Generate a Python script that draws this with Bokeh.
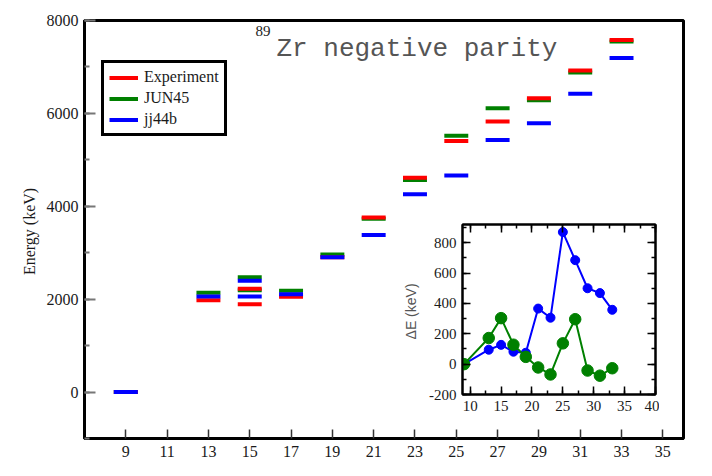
import numpy as np
from bokeh.plotting import figure
from bokeh.models import (Range1d, FixedTicker, SingleIntervalTicker, Label, Legend,
                          LegendItem, LinearAxis, GridBox, ColumnDataSource,
                          CustomLabelingPolicy)
from bokeh.embed import file_html
from bokeh.resources import INLINE

# ---------------- data ----------------
two_j = [9, 13, 15, 15, 17, 19, 21, 23, 25, 27, 29, 31, 33]
e_exp = [0, 1975, 1890, 2225, 2050, 2905, 3760, 4615, 5405, 5825, 6325, 6925, 7580]
e_jun45 = [0, 2140, 2190, 2470, 2180, 2960, 3730, 4565, 5520, 6110, 6285, 6880, 7550]
e_jj44b = [0, 2060, 2060, 2395, 2105, 2900, 3380, 4260, 4665, 5425, 5785, 6425, 7195]
x_tick_values = [9, 11, 13, 15, 17, 19, 21, 23, 25, 27, 29, 31, 33, 35]

inset_2j = [9, 13, 15, 17, 19, 21, 23, 25, 27, 29, 31, 33]
de_jj44b = [0, 95, 127, 82, 75, 366, 306, 870, 685, 500, 468, 358]
de_jun45 = [0, 172, 303, 128, 48, -22, -68, 137, 296, -42, -76, -27]

RED, GREEN, BLUE = "#ff0000", "#008000", "#0000ff"
SERIF = "Liberation Serif"
HALF = 0.58

# ---------------- main figure ----------------
p = figure(frame_width=599, frame_height=418,
           x_range=Range1d(7, 36), y_range=Range1d(-1000, 8000),
           output_backend="svg", toolbar_location=None,
           min_border_left=84, min_border_right=21, min_border_top=19, min_border_bottom=31)
p.grid.visible = False
p.outline_line_color = "black"
p.outline_line_width = 3
p.outline_line_alpha = 1
p.background_fill_color = "white"
p.border_fill_color = "white"

xs = np.array(two_j, dtype=float)


def bars(vals, color):
    src = ColumnDataSource(dict(x0=xs - HALF, x1=xs + HALF, y=vals))
    return p.segment(x0="x0", y0="y", x1="x1", y1="y", source=src,
                     line_color=color, line_width=4, line_cap="butt")


r_jun = bars(e_jun45, GREEN)
r_exp = bars(e_exp, RED)
r_jj = bars(e_jj44b, BLUE)

xa = p.xaxis[0]
xa.ticker = FixedTicker(ticks=x_tick_values)
xa.major_tick_in = 9
xa.major_tick_out = 0
xa.major_tick_line_color = "#333333"
xa.major_tick_line_width = 1.5
xa.axis_line_width = 3
xa.axis_line_color = "black"
xa.major_label_standoff = 7
xa.major_label_text_font = SERIF
xa.major_label_text_font_size = "16px"
xa.major_label_text_color = "#1a1a1a"

ya = p.yaxis[0]
ya.ticker = SingleIntervalTicker(interval=2000, num_minor_ticks=2)
ya.major_tick_in = 11
ya.major_tick_out = 0
ya.minor_tick_in = 5
ya.minor_tick_out = 0
ya.major_tick_line_color = "#777777"
ya.minor_tick_line_color = "#777777"
ya.major_tick_line_width = 2
ya.minor_tick_line_width = 2
ya.axis_line_width = 3
ya.axis_line_color = "black"
ya.major_label_standoff = 6
ya.major_label_text_font = SERIF
ya.major_label_text_font_size = "16px"
ya.major_label_text_color = "#1a1a1a"
ya.axis_label = "Energy  (keV)"
ya.axis_label_text_font = SERIF
ya.axis_label_text_font_size = "16px"
ya.axis_label_text_font_style = "normal"
ya.axis_label_text_color = "#1a1a1a"
ya.axis_label_standoff = 6

legend = Legend(items=[LegendItem(label="Experiment", renderers=[r_exp]),
                       LegendItem(label="JUN45", renderers=[r_jun]),
                       LegendItem(label="jj44b", renderers=[r_jj])],
                location=(17, 302), margin=0, padding=5, spacing=3,
                glyph_width=29, glyph_height=17, label_height=17, label_standoff=6,
                label_text_font=SERIF, label_text_font_size="16px",
                label_text_color="#1a1a1a",
                border_line_color="black", border_line_width=3, border_line_alpha=1,
                background_fill_color="white", background_fill_alpha=1)
p.add_layout(legend)

p.add_layout(Label(x=171, y=408, x_units="screen", y_units="screen", text="89",
                   text_font=SERIF, text_font_size="15px", text_color="#222222",
                   text_baseline="alphabetic"))
p.add_layout(Label(x=192, y=390, x_units="screen", y_units="screen",
                   text="Zr negative parity", text_font="Liberation Mono",
                   text_font_size="26px", text_color="#555555",
                   text_baseline="alphabetic"))
p.add_layout(Label(x=299.5, y=-25.5, x_units="screen", y_units="screen",
                   text="2J  (h)", text_font=SERIF, text_font_size="16px",
                   text_color="#1a1a1a", text_align="center", text_baseline="top"))

# ---------------- inset ----------------
p2 = figure(frame_width=193, frame_height=170,
            x_range=Range1d(8.75, 40), y_range=Range1d(-200, 920),
            output_backend="svg", toolbar_location=None,
            min_border_left=75, min_border_right=13, min_border_top=20, min_border_bottom=30)
p2.grid.visible = False
p2.outline_line_color = "black"
p2.outline_line_width = 2
p2.outline_line_alpha = 1
p2.background_fill_color = "white"
p2.border_fill_alpha = 0
p2.margin = (204, 0, 0, 378)

p2.line(inset_2j, de_jj44b, line_color=BLUE, line_width=2)
p2.scatter(inset_2j, de_jj44b, size=9, fill_color=BLUE, line_color=BLUE)
p2.line(inset_2j, de_jun45, line_color=GREEN, line_width=2)
p2.scatter(inset_2j, de_jun45, size=11.5, fill_color=GREEN, line_color=GREEN)

ix_ticker = SingleIntervalTicker(interval=5, num_minor_ticks=2)
iy_ticker = SingleIntervalTicker(interval=200, num_minor_ticks=2)
no_labels = CustomLabelingPolicy(code="""
    const ids = [...indices]
    for (const i of ids) indices.unset(i)
    return indices
""")


def style_inset_axis(ax, ticker, labels=True):
    ax.ticker = ticker
    ax.major_tick_in = 8
    ax.major_tick_out = 0
    ax.minor_tick_in = 4
    ax.minor_tick_out = 0
    ax.major_tick_line_color = "black"
    ax.minor_tick_line_color = "black"
    ax.major_tick_line_width = 1.5
    ax.minor_tick_line_width = 1.5
    ax.axis_line_color = "black"
    ax.axis_line_width = 2
    ax.major_label_text_font = SERIF
    ax.major_label_text_color = "#1a1a1a"
    if labels:
        ax.major_label_text_font_size = "15px"
        ax.major_label_standoff = 6
    else:
        ax.major_label_policy = no_labels
        ax.major_label_text_font_size = "1px"
        ax.major_label_standoff = 0


style_inset_axis(p2.xaxis[0], ix_ticker)
style_inset_axis(p2.yaxis[0], iy_ticker)
p2.yaxis[0].major_label_overrides = {-200: "-200"}
p2.yaxis[0].axis_label = "\u0394E  (keV)"
p2.yaxis[0].axis_label_text_font = "Liberation Sans"
p2.yaxis[0].axis_label_text_font_size = "14px"
p2.yaxis[0].axis_label_text_font_style = "normal"
p2.yaxis[0].axis_label_text_color = "#555555"
p2.yaxis[0].axis_label_standoff = 7

top_ax = LinearAxis()
right_ax = LinearAxis()
style_inset_axis(top_ax, ix_ticker, labels=False)
style_inset_axis(right_ax, iy_ticker, labels=False)
p2.add_layout(top_ax, "above")
p2.add_layout(right_ax, "right")

layout = GridBox(children=[(p, 0, 0), (p2, 0, 0)])

open("out.html", "w").write(file_html(layout, INLINE))
